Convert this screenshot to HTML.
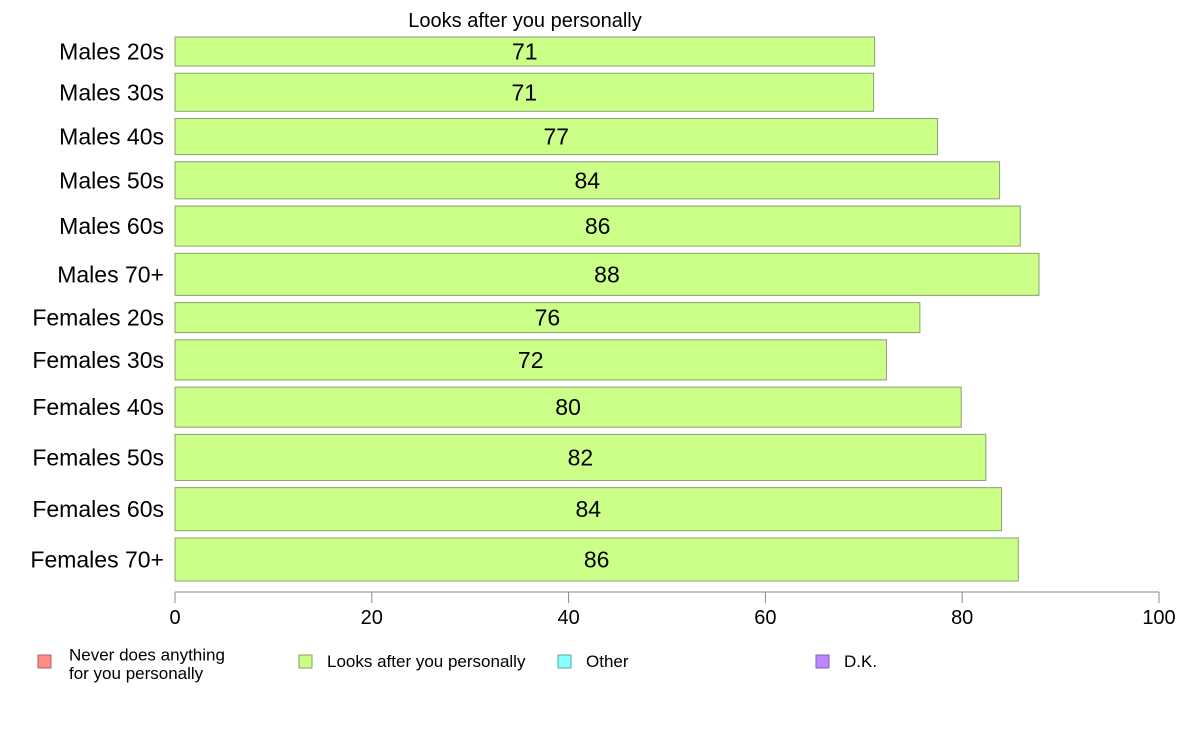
<!DOCTYPE html>
<html><head><meta charset="utf-8"><style>
body{margin:0;background:#fff;font-family:"Liberation Sans",Arial,sans-serif;}
svg text{font-family:"Liberation Sans",Arial,sans-serif;}
</style></head><body>
<svg id="chart" width="1188" height="736" xmlns="http://www.w3.org/2000/svg">
<text x="525" y="27" font-size="20" text-anchor="middle">Looks after you personally</text>
<g id="bars"></g>
<g id="axis"></g>
<g>
 <g><rect x="38" y="655" width="13" height="13" fill="#ff8a8a" stroke="#b06060"/><text x="69" y="657" font-size="17" dy="0.2em">Never does anything</text><text x="69" y="679" font-size="17">for you personally</text></g>
 <g><rect x="299" y="655" width="13" height="13" fill="#ccff88" stroke="#80a060"/><text x="327" y="667" font-size="17">Looks after you personally</text></g>
 <g><rect x="558" y="655" width="13" height="13" fill="#88ffff" stroke="#60a0a0"/><text x="586" y="667" font-size="17">Other</text></g>
 <g><rect x="816" y="655" width="13" height="13" fill="#bb88ff" stroke="#8060b0"/><text x="844" y="667" font-size="17">D.K.</text></g>
</g>
</svg>
<script>
const categories=["Males 20s","Males 30s","Males 40s","Males 50s","Males 60s","Males 70+","Females 20s","Females 30s","Females 40s","Females 50s","Females 60s","Females 70+"];
const values=[71.1,71.0,77.5,83.8,85.9,87.8,75.7,72.3,79.9,82.4,84.0,85.7];
const labels=["71","71","77","84","86","88","76","72","80","82","84","86"];
const weights=[29,38,36,37,40,42,30,40,40,46,43,43];
const ticks=[0,20,40,60,80,100];
const NS="http://www.w3.org/2000/svg";
const plotX0=175,plotX1=1159,plotTop=37,plotBottom=581,barGap=7.2;
function xs(v){return plotX0+(plotX1-plotX0)*v/100;}
const totalW=weights.reduce((a,b)=>a+b,0);
const unit=(plotBottom-plotTop-barGap*(weights.length-1))/totalW;
const barsG=document.getElementById('bars');
let yPos=plotTop;
categories.forEach((c,i)=>{
 const h=weights[i]*unit;
 const r=document.createElementNS(NS,'rect');
 r.setAttribute('x',xs(0));r.setAttribute('y',yPos);r.setAttribute('width',xs(values[i])-xs(0));r.setAttribute('height',h);
 r.setAttribute('fill','#ccff88');r.setAttribute('stroke','#8aa070');r.setAttribute('stroke-width','1');
 
 
 barsG.appendChild(r);
 const t=document.createElementNS(NS,'text');
 t.setAttribute('x',xs(values[i]/2));t.setAttribute('y',yPos+h/2+8);t.setAttribute('font-size','23');t.setAttribute('text-anchor','middle');
 t.textContent=labels[i];
 
 
 barsG.appendChild(t);
 const l=document.createElementNS(NS,'text');
 l.setAttribute('x',164);l.setAttribute('y',yPos+h/2+8);l.setAttribute('font-size','23');l.setAttribute('text-anchor','end');
 l.textContent=c;
 
 
 barsG.appendChild(l);
 yPos+=h+barGap;
});
const ax=document.getElementById('axis');
const axLine=document.createElementNS(NS,'line');
axLine.setAttribute('x1',plotX0);axLine.setAttribute('x2',plotX1);axLine.setAttribute('y1',592);axLine.setAttribute('y2',592);axLine.setAttribute('stroke','#888');


ax.appendChild(axLine);
ticks.forEach(v=>{
 const tk=document.createElementNS(NS,'line');
 tk.setAttribute('x1',xs(v));tk.setAttribute('x2',xs(v));tk.setAttribute('y1',592);tk.setAttribute('y2',603);tk.setAttribute('stroke','#888');
 
 
 ax.appendChild(tk);
 const t=document.createElementNS(NS,'text');
 t.setAttribute('x',xs(v));t.setAttribute('y',624);t.setAttribute('font-size','20');t.setAttribute('text-anchor','middle');
 t.textContent=v;
 
 
 ax.appendChild(t);
});
</script>
</body></html>
